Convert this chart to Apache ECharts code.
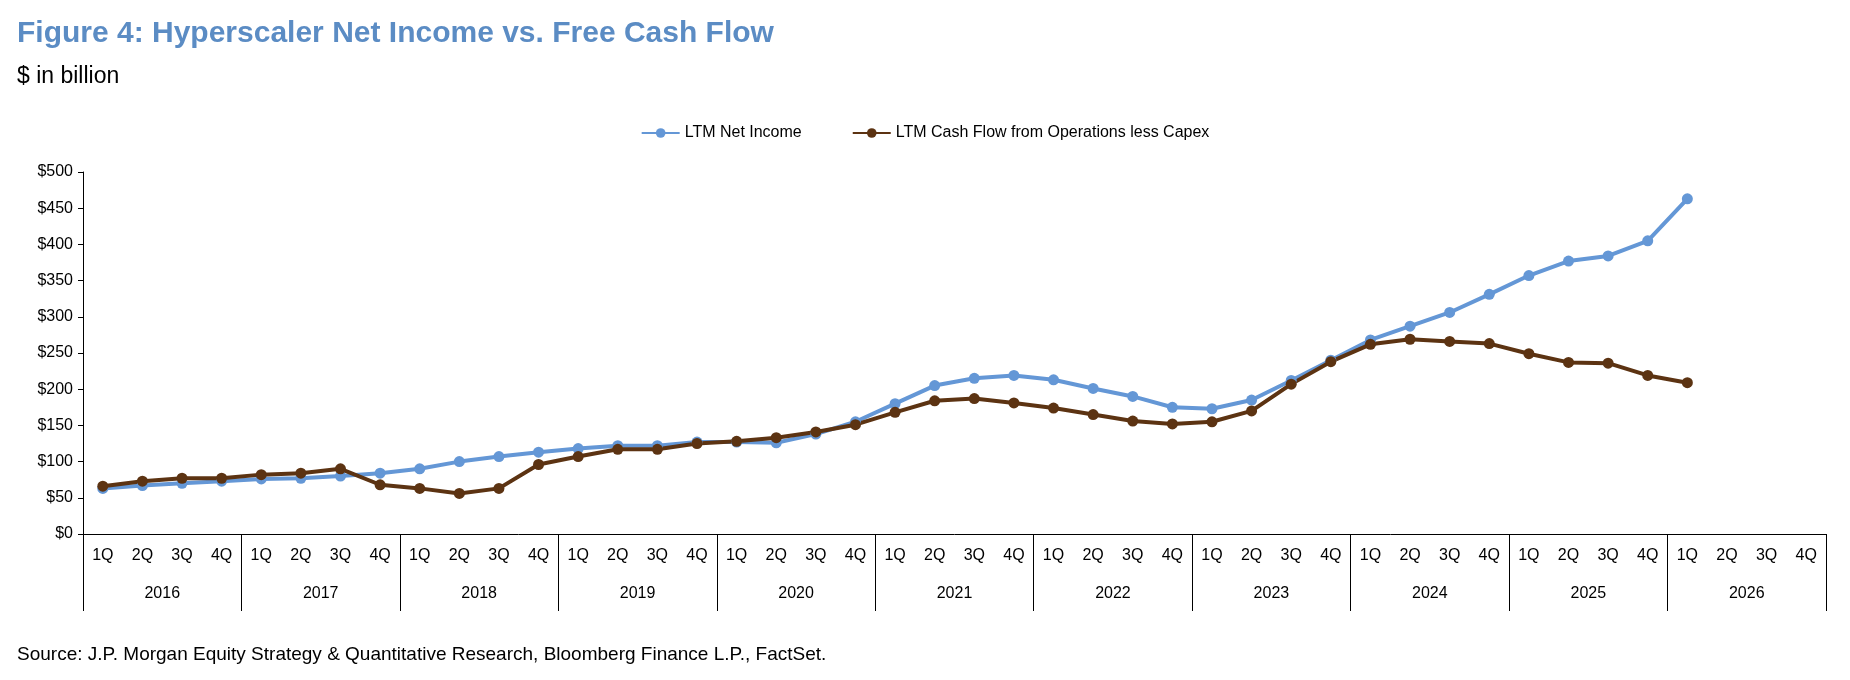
<!DOCTYPE html>
<html>
<head>
<meta charset="utf-8">
<script src="https://cdn.jsdelivr.net/npm/echarts@6/dist/echarts.min.js"></script>
<style>
html, body { margin: 0; padding: 0; background: #fff; }
#chart { width: 1850px; height: 680px; }
</style>
</head>
<body>
<div id="chart"></div>
<script>
var years = ['2016', '2017', '2018', '2019', '2020', '2021', '2022', '2023', '2024', '2025', '2026'];
var quarters = [];
years.forEach(function (y) {
	['1Q', '2Q', '3Q', '4Q'].forEach(function (q) { quarters.push(q); });
});
// LTM net income, 1Q16 .. 1Q26
var netIncome = [63, 67, 70, 73, 76, 77, 80, 84, 90, 100, 107, 113, 118, 122, 122, 127,
	127, 126, 138, 155, 180, 205, 215, 219, 213, 201, 190, 175, 173, 185, 212, 240,
	268, 287, 306, 331, 357, 377, 384, 405, 463];
// LTM cash flow from operations less capex
var freeCashFlow = [66, 73, 77, 77, 82, 84, 90, 68, 63, 56, 63, 96, 107, 117, 117, 125,
	128, 133, 141, 151, 168, 184, 187, 181, 174, 165, 156, 152, 155, 170, 207, 238,
	262, 269, 266, 263, 249, 237, 236, 219, 209];

var font = '"Liberation Sans Narrow", "Liberation Sans", Arial, sans-serif';
var chart = echarts.init(document.getElementById('chart'));
var option = {
	animation: false,
	textStyle: { fontFamily: font, color: '#000' },
	title: [{
		text: 'Figure 4: Hyperscaler Net Income vs. Free Cash Flow',
		left: 12, top: 14,
		textStyle: { fontFamily: font, fontSize: 30, fontWeight: 'bold', color: '#5b8cc4' }
	}, {
		text: '$ in billion',
		left: 12, top: 60,
		textStyle: { fontFamily: '"Liberation Sans", Arial, sans-serif', fontSize: 23, fontWeight: 'normal', color: '#000' }
	}, {
		text: 'Source: J.P. Morgan Equity Strategy & Quantitative Research, Bloomberg Finance L.P., FactSet.',
		left: 12, top: 640,
		textStyle: { fontFamily: '"Liberation Sans", Arial, sans-serif', fontSize: 19, fontWeight: 'normal', color: '#000' }
	}],
	legend: {
		top: 120, left: 'center',
		itemGap: 50, itemWidth: 38, itemHeight: 12,
		textStyle: { fontFamily: font, fontSize: 16, color: '#000' },
		data: ['LTM Net Income', 'LTM Cash Flow from Operations less Capex']
	},
	grid: { left: 83, right: 24, top: 172, bottom: 146 },
	xAxis: [{
		type: 'category',
		data: quarters,
		axisLine: { lineStyle: { color: '#000', width: 1 } },
		axisTick: { show: false },
		axisLabel: { interval: 0, fontSize: 16, margin: 14, color: '#000' }
	}, {
		type: 'category',
		position: 'bottom',
		data: years,
		axisLine: { show: false },
		axisTick: { show: true, interval: 0, length: 77, lineStyle: { color: '#000' } },
		axisLabel: { interval: 0, fontSize: 16, margin: 52, color: '#000' }
	}],
	yAxis: {
		type: 'value',
		min: 0, max: 500, interval: 50,
		axisLine: { show: true, lineStyle: { color: '#000' } },
		axisTick: { show: true, length: 5, lineStyle: { color: '#000' } },
		splitLine: { show: false },
		axisLabel: {
			fontSize: 16, color: '#000', margin: 10,
			formatter: function (v) { return '$' + v; }
		}
	},
	series: [{
		name: 'LTM Net Income',
		type: 'line',
		xAxisIndex: 0,
		data: netIncome,
		symbol: 'circle', symbolSize: 11,
		lineStyle: { width: 4, color: '#6497d6' },
		itemStyle: { color: '#6497d6' }
	}, {
		name: 'LTM Cash Flow from Operations less Capex',
		type: 'line',
		xAxisIndex: 0,
		data: freeCashFlow,
		symbol: 'circle', symbolSize: 11,
		lineStyle: { width: 4, color: '#5c3312' },
		itemStyle: { color: '#5c3312' }
	}]
};
chart.setOption(option);
</script>
</body>
</html>
